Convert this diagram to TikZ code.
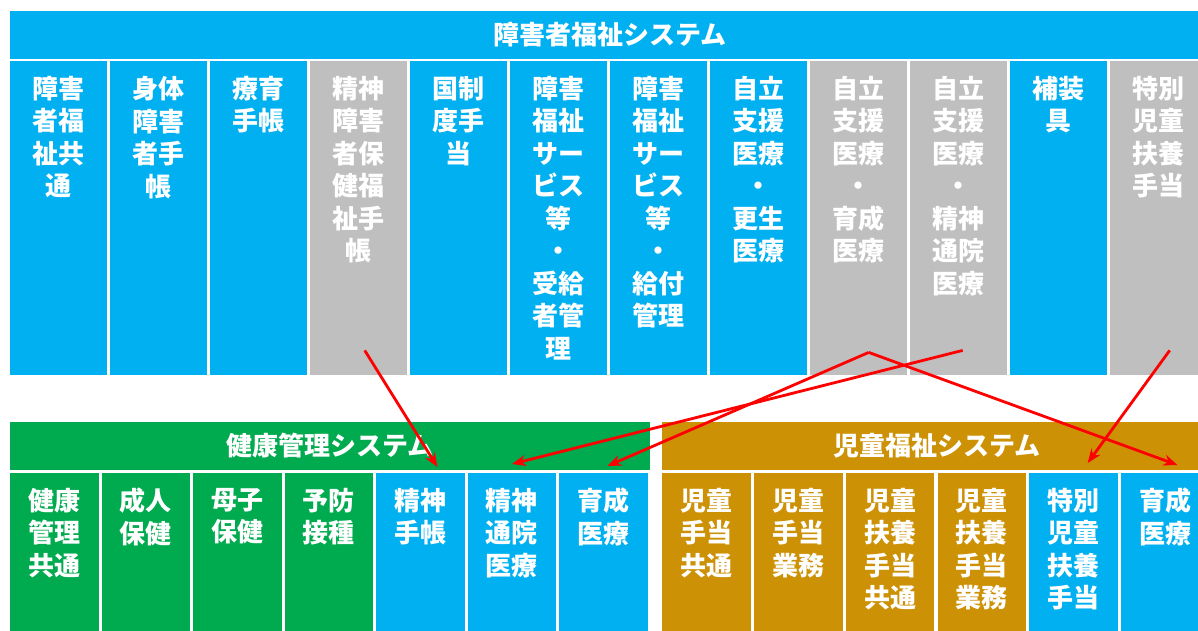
\documentclass[tikz,border=0pt]{standalone}
\usepackage{fontspec}
\usetikzlibrary{arrows.meta}
\newfontfamily\jpfont{Noto Sans CJK JP}
\tikzset{>={Stealth[length=14pt,width=11pt]}}
\definecolor{sysblue}{RGB}{0,176,240}
\definecolor{sysgray}{RGB}{191,191,191}
\definecolor{sysgreen}{RGB}{0,170,78}
\definecolor{sysorange}{RGB}{205,145,5}
\tikzset{
  sysbar/.style={fill=#1, text=white, inner sep=0pt, minimum height=48pt},
  topcol/.style={fill=#1, anchor=north west, inner sep=0pt, minimum width=97pt, minimum height=314pt},
  lowcol/.style={fill=#1, anchor=north west, inner sep=0pt, minimum width=88.5pt, minimum height=170pt},
  coltext/.style={anchor=north, text=white, align=center, inner sep=0pt, yshift=-15pt},
  link/.style={->, red, line width=2.8pt},
}

\begin{document}
\begin{tikzpicture}[x=1pt, y=1pt, font=\jpfont\bfseries\fontsize{26}{32.5}\selectfont]
\useasboundingbox (0,0) rectangle (1198,-630);
\clip (0,0) rectangle (1198,-630);
% 障害者福祉システム
\node[sysbar=sysblue, minimum width=1200pt] (welfare) at (610,-34.5) {障害者福祉システム};
\node[topcol=sysblue] (b1) at (10,-61) {};
\node[coltext] (l1) at (b1.north) {障害\\者福\\祉共\\通};
\node[topcol=sysblue] (b2) at (110,-61) {};
\node[coltext] (l2) at (b2.north) {身体\\障害\\者手\\帳};
\node[topcol=sysblue] (b3) at (210,-61) {};
\node[coltext] (l3) at (b3.north) {療育\\手帳};
\node[topcol=sysgray] (b4) at (310,-61) {};
\node[coltext] (l4) at (b4.north) {精神\\障害\\者保\\健福\\祉手\\帳};
\node[topcol=sysblue] (b5) at (410,-61) {};
\node[coltext] (l5) at (b5.north) {国制\\度手\\当};
\node[topcol=sysblue] (b6) at (510,-61) {};
\node[coltext] (l6) at (b6.north) {障害\\福祉\\サー\\ビス\\等\\・\\受給\\者管\\理};
\node[topcol=sysblue] (b7) at (610,-61) {};
\node[coltext] (l7) at (b7.north) {障害\\福祉\\サー\\ビス\\等\\・\\給付\\管理};
\node[topcol=sysblue] (b8) at (710,-61) {};
\node[coltext] (l8) at (b8.north) {自立\\支援\\医療\\・\\更生\\医療};
\node[topcol=sysgray] (b9) at (810,-61) {};
\node[coltext] (l9) at (b9.north) {自立\\支援\\医療\\・\\育成\\医療};
\node[topcol=sysgray] (b10) at (910,-61) {};
\node[coltext] (l10) at (b10.north) {自立\\支援\\医療\\・\\精神\\通院\\医療};
\node[topcol=sysblue] (b11) at (1010,-61) {};
\node[coltext] (l11) at (b11.north) {補装\\具};
\node[topcol=sysgray] (b12) at (1110,-61) {};
\node[coltext] (l12) at (b12.north) {特別\\児童\\扶養\\手当};
% 健康管理システム
\node[sysbar=sysgreen, minimum width=640pt] (health) at (330,-445.5) {健康管理システム};
\node[lowcol=sysgreen] (g1) at (10,-473) {};
\node[coltext] (h1) at (g1.north) {健康\\管理\\共通};
\node[lowcol=sysgreen] (g2) at (101.5,-473) {};
\node[coltext] (h2) at (g2.north) {成人\\保健};
\node[lowcol=sysgreen] (g3) at (193,-473) {};
\node[coltext] (h3) at (g3.north) {母子\\保健};
\node[lowcol=sysgreen] (g4) at (284.5,-473) {};
\node[coltext] (h4) at (g4.north) {予防\\接種};
\node[lowcol=sysblue] (g5) at (376,-473) {};
\node[coltext] (h5) at (g5.north) {精神\\手帳};
\node[lowcol=sysblue] (g6) at (467.5,-473) {};
\node[coltext] (h6) at (g6.north) {精神\\通院\\医療};
\node[lowcol=sysblue] (g7) at (559,-473) {};
\node[coltext] (h7) at (g7.north) {育成\\医療};
% 児童福祉システム
\node[sysbar=sysorange, minimum width=550pt] (child) at (937,-445.5) {児童福祉システム};
\node[lowcol=sysorange] (k1) at (662,-473) {};
\node[coltext] (c1) at (k1.north) {児童\\手当\\共通};
\node[lowcol=sysorange] (k2) at (753.8,-473) {};
\node[coltext] (c2) at (k2.north) {児童\\手当\\業務};
\node[lowcol=sysorange] (k3) at (845.6,-473) {};
\node[coltext] (c3) at (k3.north) {児童\\扶養\\手当\\共通};
\node[lowcol=sysorange] (k4) at (937.4,-473) {};
\node[coltext] (c4) at (k4.north) {児童\\扶養\\手当\\業務};
\node[lowcol=sysblue] (k5) at (1029.2,-473) {};
\node[coltext] (c5) at (k5.north) {特別\\児童\\扶養\\手当};
\node[lowcol=sysblue] (k6) at (1121,-473) {};
\node[coltext] (c6) at (k6.north) {育成\\医療};
% links
\coordinate (s4) at ([xshift=6pt,yshift=25pt]b4.south);
\coordinate (s9) at ([xshift=10pt,yshift=23pt]b9.south);
\coordinate (s10) at ([xshift=4pt,yshift=25pt]b10.south);
\coordinate (s12) at ([xshift=11pt,yshift=25pt]b12.south);
\draw[link] (s4) -- ([xshift=17pt,yshift=6pt]g5.north);
\draw[link] (s10) -- ([xshift=0pt,yshift=9pt]g6.north);
\draw[link] (s9) -- ([xshift=4pt,yshift=7pt]g7.north);
\draw[link] (s9) -- ([xshift=12pt,yshift=8pt]k6.north);
\draw[link] (s12) -- ([xshift=14pt,yshift=10pt]k5.north);
\end{tikzpicture}
\end{document}
